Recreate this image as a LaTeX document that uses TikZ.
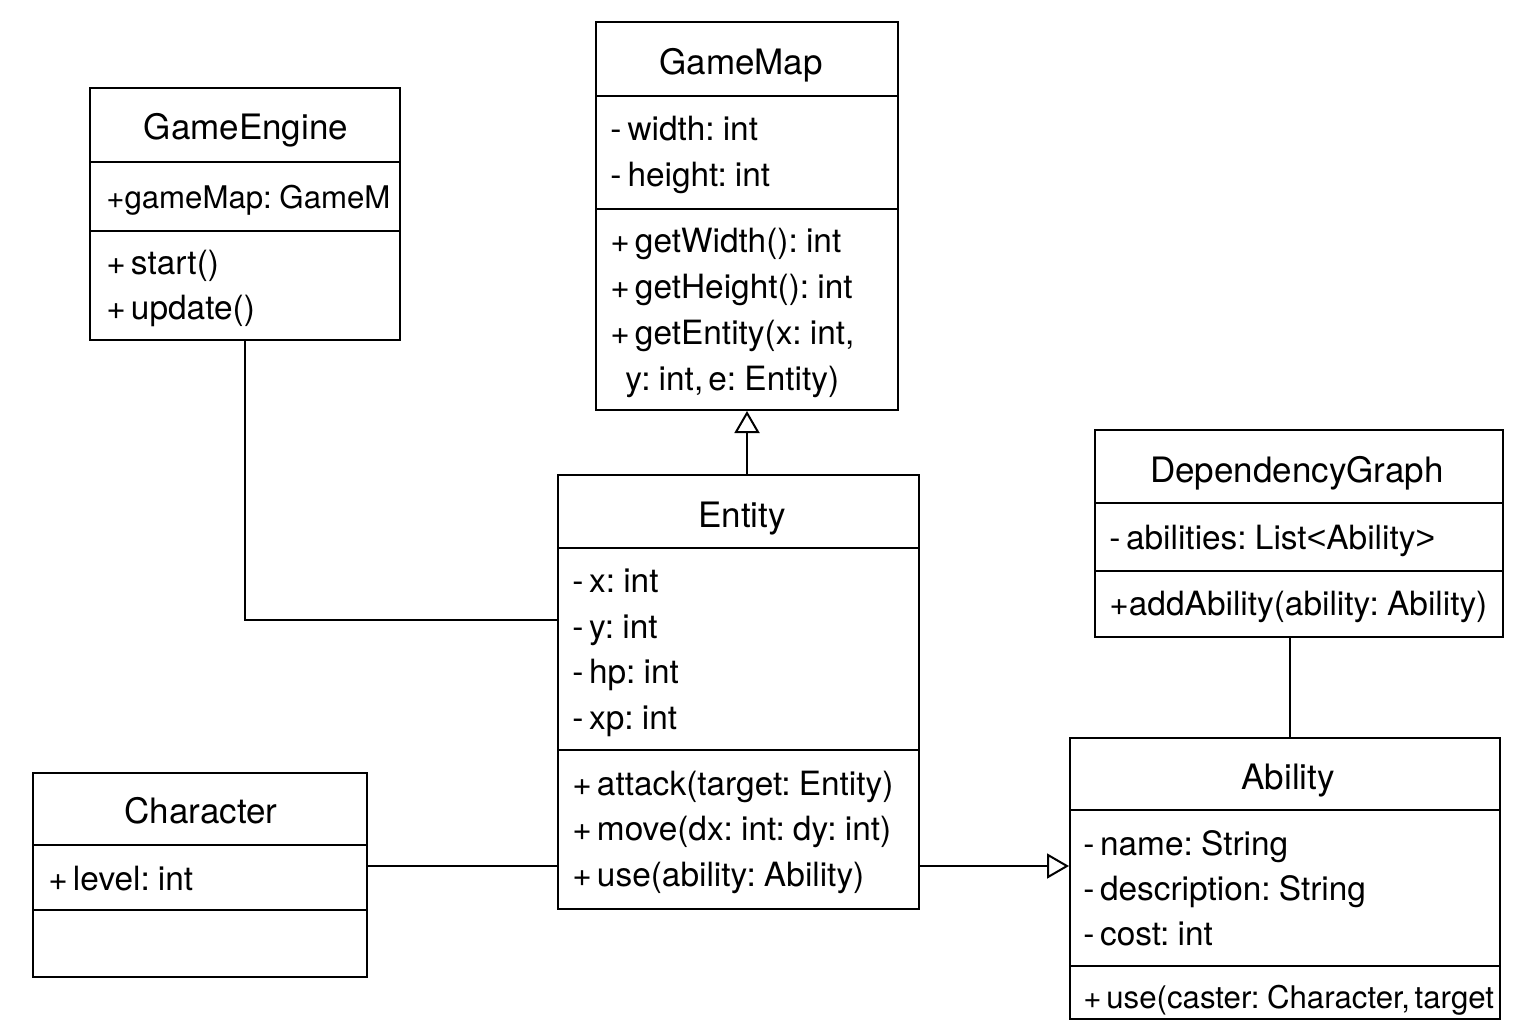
\documentclass[tikz,border=0pt]{standalone}
\usepackage{fontspec}
\setmainfont[WordSpace=0.55]{TeX Gyre Heros}
\newfontfamily\bracketfont{Liberation Sans}
\usetikzlibrary{arrows.meta}
\tikzset{
  cls/.style={draw=black, line width=1pt, inner sep=0pt, fill=none},
  sep/.style={line width=1pt},
  ttl/.style={anchor=base, inner sep=0pt, font=\fontsize{17.5}{19}\selectfont},
  mem/.style={anchor=base west, inner sep=0pt, font=\fontsize{16.7}{18}\selectfont},
  memsm/.style={mem, font=\fontsize{15.6}{18}\selectfont},
  conn/.style={line width=1pt},
  gen/.style={line width=1pt, -{Triangle[open, length=11pt, width=12.5pt, line width=1pt]}},
}
\begin{document}
\begin{tikzpicture}[x=0.5pt, y=-0.5pt]
\useasboundingbox (0,0) rectangle (1536,1024);
% GameEngine
\node[cls, minimum width=155pt, minimum height=126pt] (ge) at (245,214) {};
\draw[sep] (90,162) -- (400,162);
\draw[sep] (90,231) -- (400,231);
\node[ttl] (geT) at (246,139) {GameEngine};
\node[memsm] (geA) at (106,208) {+gameMap: GameM};
\node[mem] (geM1) at (106,274) {+ start()};
\node[mem] (geM2) at (106,319) {+ update()};
% GameMap
\node[cls, minimum width=151pt, minimum height=194pt] (gm) at (747,216) {};
\draw[sep] (596,96) -- (898,96);
\draw[sep] (596,209) -- (898,209);
\node[ttl] (gmT) at (741,74) {GameMap};
\node[mem] (gmA1) at (610,140) {-\hspace{3pt}width: int};
\node[mem] (gmA2) at (610,186) {-\hspace{3pt}height: int};
\node[mem] (gmM1) at (610,252) {+ getWidth(): int};
\node[mem] (gmM2) at (610,298) {+ getHeight(): int};
\node[mem] (gmM3) at (610,344) {+ getEntity(x: int,};
\node[mem] (gmM4) at (625,390) {y: int, e: Entity)};
% Entity
\node[cls, minimum width=180.5pt, minimum height=217pt] (ent) at (738.5,692) {};
\draw[sep] (558,548) -- (919,548);
\draw[sep] (558,750) -- (919,750);
\node[ttl] (entT) at (742,527) {Entity};
\node[mem] (entA1) at (572,592) {-\,x: int};
\node[mem] (entA2) at (572,638) {-\,y: int};
\node[mem] (entA3) at (572,683) {-\,hp: int};
\node[mem] (entA4) at (572,729) {-\,xp: int};
\node[mem] (entM1) at (572,795) {+ attack(target: Entity)};
\node[mem] (entM2) at (572,840) {+ move(dx: int: dy: int)};
\node[mem] (entM3) at (572,886) {+ use(ability: Ability)};
% DependencyGraph
\node[cls, minimum width=204pt, minimum height=103.5pt] (dg) at (1299,533.5) {};
\draw[sep] (1095,503) -- (1503,503);
\draw[sep] (1095,571) -- (1503,571);
\node[ttl] (dgT) at (1297,482) {DependencyGraph};
\node[mem] (dgA) at (1109,549) {-\,abilities: List{\bracketfont <}Ability{\bracketfont >}};
\node[mem] (dgM) at (1109,615) {+addAbility(ability: Ability)};
% Ability
\node[cls, minimum width=215pt, minimum height=140.5pt] (ab) at (1285,878.5) {};
\draw[sep] (1070,810) -- (1500,810);
\draw[sep] (1070,966) -- (1500,966);
\node[ttl] (abT) at (1288,789) {Ability};
\node[mem] (abA1) at (1083,855) {-\,name: String};
\node[mem] (abA2) at (1083,900) {-\,description: String};
\node[mem] (abA3) at (1083,945) {-\,cost: int};
\begin{scope}
\clip (1070,966) rectangle (1499,1019);
\node[memsm] (abM1) at (1083,1008) {+ use(caster: Character, target};
\end{scope}
% Character
\node[cls, minimum width=167pt, minimum height=102pt] (ch) at (200,875) {};
\draw[sep] (33,845) -- (367,845);
\draw[sep] (33,910) -- (367,910);
\node[ttl] (chT) at (201,823) {Character};
\node[mem] (chA) at (48,890) {+ level: int};
% connectors
\draw[conn] (ge.south) |- (ent.west |- 0,620);
\draw[gen] (ent.north -| gm.south) -- (gm.south);
\draw[conn] (ch.east |- 0,866) -- (ent.west |- 0,866);
\draw[gen] (ent.east |- 0,866) -- (ab.west |- 0,866);
\draw[conn] (dg.south -| 1290,0) -- (ab.north -| 1290,0);
\end{tikzpicture}
\end{document}
